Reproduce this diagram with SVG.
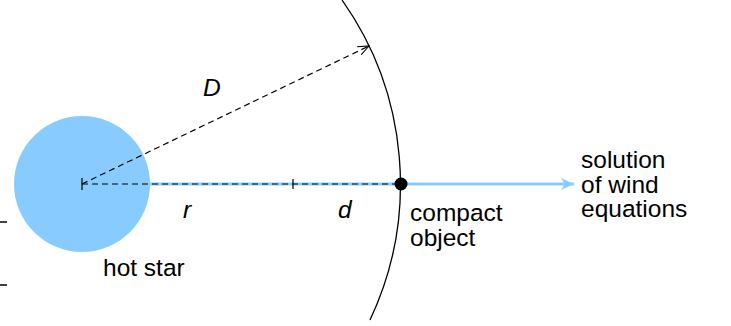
<svg xmlns="http://www.w3.org/2000/svg" width="731" height="326" viewBox="0 0 731 326">
<defs>
<style>
text{font-family:"Liberation Sans",Arial,sans-serif;font-size:24.5px;fill:#000}
.it{font-style:italic}
.dash{stroke:#000;stroke-width:1.2;stroke-dasharray:6,4;fill:none}
</style>
<marker id="open" viewBox="0 0 12 10" refX="11" refY="5" markerWidth="12" markerHeight="10" markerUnits="userSpaceOnUse" orient="auto">
<path d="M0,0.5 L11,5 L0,9.5" fill="none" stroke="#000" stroke-width="1.1"/>
</marker>
<marker id="blue" viewBox="0 0 14 12" refX="13" refY="6" markerWidth="14" markerHeight="12" markerUnits="userSpaceOnUse" orient="auto">
<path d="M0,0 L13,6 L0,12 L4,6 Z" fill="#88ccff"/>
</marker>
</defs>
<g id="hot-star">
<circle cx="82" cy="184" r="68" fill="#88ccff"/>
<text x="103" y="276">hot star</text>
</g>
<g id="connectors">
<line x1="150" y1="184" x2="574" y2="184" stroke="#88ccff" stroke-width="3" marker-end="url(#blue)"/>
<line class="dash" x1="82" y1="184" x2="401" y2="184"/>
<line class="dash" x1="82" y1="184" x2="369" y2="46" marker-end="url(#open)"/>
<line x1="82" y1="178" x2="82" y2="190" stroke="#000" stroke-width="1.2"/>
<line x1="293" y1="179" x2="293" y2="189" stroke="#000" stroke-width="1.2"/>
<path d="M342,0 A319,319 0 0 1 370,320" fill="none" stroke="#000" stroke-width="1.3"/>
<line x1="0" y1="222" x2="7" y2="222" stroke="#000" stroke-width="1.5"/>
<line x1="0" y1="285" x2="7" y2="285" stroke="#000" stroke-width="1.5"/>
</g>
<g id="labels">
<text class="it" x="203" y="96">D</text>
<text class="it" x="183" y="218">r</text>
<text class="it" x="338" y="218">d</text>
</g>
<g id="compact-object">
<circle cx="401" cy="184" r="6.5" fill="#000"/>
<text x="410" y="221">compact</text>
<text x="410" y="246">object</text>
</g>
<g id="solution">
<text x="581" y="168">solution</text>
<text x="581" y="193">of wind</text>
<text x="581" y="217">equations</text>
</g>
</svg>
